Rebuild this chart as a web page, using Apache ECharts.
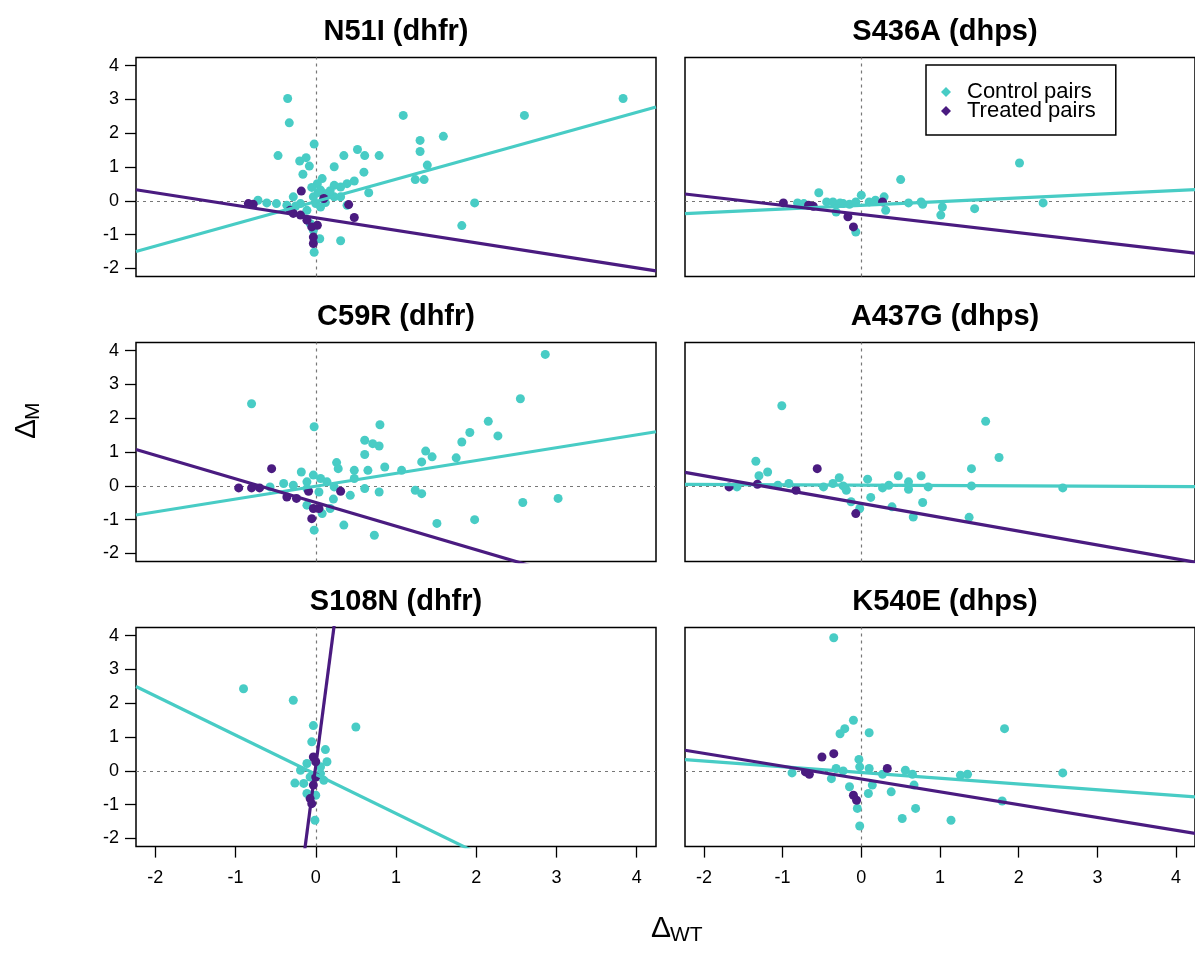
<!DOCTYPE html>
<html><head><meta charset="utf-8">
<script src="https://cdn.jsdelivr.net/npm/echarts@6/dist/echarts.min.js"></script>
<style>html,body{margin:0;padding:0;background:#fff}#c{width:1195px;height:953px}</style>
</head><body><div id="c"></div>
<script>
const panelTitles = ['N51I (dhfr)', 'S436A (dhps)', 'C59R (dhfr)', 'A437G (dhps)', 'S108N (dhfr)', 'K540E (dhps)'];
const seriesNames = ['Control pairs', 'Treated pairs'];
const xTicks = [-2, -1, 0, 1, 2, 3, 4];
const yTicks = [-2, -1, 0, 1, 2, 3, 4];
const axisRange = [-2.24, 4.24];

const n51iControl = [[-0.35,3.03],[-0.33,2.31],[1.09,2.53],[2.60,2.53],[3.83,3.03],[-0.02,1.68],[-0.47,1.34],[-0.20,1.18],[-0.12,1.28],[-0.08,1.03],[-0.16,0.79],[0.23,1.01],[0.35,1.34],[0.52,1.52],[0.61,1.34],[0.79,1.34],[0.60,0.85],[1.30,1.79],[1.30,1.46],[1.59,1.91],[1.39,1.06],[1.24,0.63],[1.35,0.63],[1.98,-0.06],[1.82,-0.73],[0.31,-1.18],[0.05,-1.12],[-0.02,-1.52],[0.66,0.24],[0.48,0.59],[0.39,0.51],[0.31,0.41],[0.23,0.46],[0.08,0.66],[0.02,0.51],[0.06,0.32],[0.14,0.22],[0.23,0.12],[0.31,0.12],[-0.28,0.12],[-0.19,-0.08],[-0.36,-0.13],[-0.49,-0.08],[-0.61,-0.06],[-0.72,0.02],[-0.03,0.12],[0.00,-0.08],[0.06,-0.18],[0.39,-0.13],[-0.11,-0.28],[-0.07,-0.67],[-0.03,-0.87],[0.10,0.05],[0.18,0.30],[0.03,0.25],[-0.05,0.40],[0.12,-0.05],[-0.25,-0.15]];
const n51iTreated = [[-0.18,0.29],[-0.84,-0.08],[-0.78,-0.10],[0.10,0.07],[0.41,-0.11],[0.48,-0.49],[-0.28,-0.37],[-0.19,-0.42],[-0.11,-0.57],[-0.05,-0.77],[-0.03,-1.07],[-0.03,-1.26],[0.02,-0.72],[-0.32,-0.28]];

const s436aControl = [[2.01,1.12],[0.50,0.63],[-0.54,0.24],[0.00,0.17],[0.29,0.12],[0.78,-0.10],[1.03,-0.18],[1.01,-0.42],[1.44,-0.23],[2.31,-0.06],[-0.07,-0.92],[0.31,-0.28],[-0.32,-0.33],[-0.23,-0.08],[-0.44,-0.03],[-0.15,-0.10],[-0.07,-0.03],[0.10,-0.03],[0.18,0.02],[0.60,-0.06],[0.76,-0.03],[-0.73,-0.08],[-0.81,-0.06],[-0.36,-0.03],[-0.27,-0.06]];
const s436aTreated = [[-0.99,-0.06],[-0.67,-0.13],[-0.61,-0.16],[-0.17,-0.47],[-0.10,-0.77],[0.27,-0.03]];

const c59rControl = [[2.86,3.89],[-0.80,2.43],[2.55,2.58],[-0.02,1.75],[0.80,1.81],[2.15,1.91],[1.92,1.58],[2.27,1.48],[1.82,1.30],[0.61,1.35],[0.71,1.25],[0.79,1.18],[0.61,0.93],[1.37,1.03],[1.45,0.86],[1.32,0.71],[1.75,0.83],[0.86,0.56],[1.07,0.46],[0.26,0.69],[0.28,0.51],[-0.18,0.41],[0.48,0.46],[0.65,0.46],[0.48,0.22],[0.61,-0.08],[0.79,-0.18],[1.24,-0.13],[1.32,-0.23],[0.43,-0.28],[0.22,-0.39],[2.58,-0.49],[3.02,-0.37],[1.98,-1.00],[1.51,-1.11],[0.35,-1.16],[0.73,-1.46],[-0.02,-1.31],[0.08,-0.82],[0.18,-0.67],[-0.40,0.07],[-0.28,0.02],[-0.11,0.12],[-0.03,0.32],[0.06,0.22],[0.14,0.12],[0.23,-0.03],[-0.11,-0.08],[0.04,-0.18],[-0.11,-0.57],[-0.57,-0.03]];
const c59rTreated = [[-0.55,0.51],[-0.96,-0.06],[-0.80,-0.06],[-0.70,-0.06],[-0.36,-0.33],[-0.24,-0.37],[-0.09,-0.16],[0.31,-0.16],[-0.03,-0.67],[-0.05,-0.97],[0.04,-0.67]];

const a437gControl = [[-1.01,2.37],[1.58,1.91],[1.75,0.84],[-1.34,0.73],[-1.19,0.41],[-1.30,0.30],[1.40,0.51],[1.40,0.00],[2.56,-0.06],[1.37,-0.93],[0.78,-0.49],[0.66,-0.92],[0.12,-0.34],[0.47,0.30],[0.76,0.30],[-0.28,0.24],[0.08,0.20],[0.35,0.02],[0.60,0.12],[0.60,-0.10],[0.27,-0.06],[-0.36,0.07],[-0.23,0.00],[-0.19,-0.13],[-0.48,-0.03],[-0.92,0.07],[-1.06,0.02],[-1.58,-0.03],[-0.13,-0.47],[-0.02,-0.67],[0.39,-0.62],[0.85,-0.03]];
const a437gTreated = [[-0.56,0.51],[-1.32,0.05],[-1.68,-0.03],[-0.83,-0.13],[-0.07,-0.82]];

const s108nControl = [[-0.90,2.43],[-0.28,2.09],[0.50,1.30],[-0.03,1.34],[-0.05,0.86],[0.12,0.63],[0.14,0.27],[-0.11,0.22],[-0.19,0.02],[0.06,-0.08],[0.10,-0.28],[-0.26,-0.36],[-0.15,-0.37],[-0.11,-0.67],[0.00,-0.72],[-0.01,-1.46],[0.06,0.12],[-0.07,-0.18]];
const s108nTreated = [[-0.03,0.41],[0.00,0.27],[-0.03,-0.42],[-0.07,-0.82],[-0.05,-0.97],[0.00,-0.18]];

const k540eControl = [[-0.35,3.94],[-0.10,1.50],[-0.21,1.25],[-0.27,1.10],[0.10,1.13],[1.82,1.25],[-0.03,0.34],[-0.02,0.12],[0.10,0.07],[-0.32,0.07],[-0.23,0.00],[-0.88,-0.06],[-0.38,-0.23],[0.27,-0.10],[0.56,0.02],[0.65,-0.10],[1.26,-0.13],[1.35,-0.10],[2.56,-0.06],[0.67,-0.42],[0.14,-0.42],[0.09,-0.67],[0.38,-0.62],[-0.15,-0.47],[-0.05,-1.11],[-0.02,-1.63],[0.52,-1.41],[0.69,-1.11],[1.14,-1.46],[1.79,-0.89]];
const k540eTreated = [[-0.50,0.41],[-0.35,0.51],[-0.71,-0.03],[-0.66,-0.10],[0.33,0.07],[-0.10,-0.72],[-0.06,-0.87]];

// fitted regression lines: [slope, intercept]
const controlFits = [[0.66,-0.02],[0.11,-0.13],[0.38,-0.01],[-0.01,0.02],[-1.16,-0.10],[-0.17,-0.05]];
const treatedFits = [[-0.37,-0.50],[-0.27,-0.40],[-0.70,-0.49],[-0.41,-0.52],[18.1,0.15],[-0.38,-0.24]];

const controlData = [n51iControl, s436aControl, c59rControl, a437gControl, s108nControl, k540eControl];
const treatedData = [n51iTreated, s436aTreated, c59rTreated, a437gTreated, s108nTreated, k540eTreated];

const CTRL = '#48CCC5', TRT = '#4A1B80';
const FONT = '"Liberation Sans", Arial, sans-serif';
const colLeft = [136, 685], panelW = 520, rowTop = [57.6, 342.6, 627.6], panelH = 219;

const grids = [], xAxes = [], yAxes = [], series = [], graphics = [];
function fitLine(f) {
  return axisRange.map(x => [x, f[1] + f[0] * x]);
}
for (let i = 0; i < 6; i++) {
  const col = i % 2, row = Math.floor(i / 2);
  grids.push({left: colLeft[col], top: rowTop[row], width: panelW, height: panelH,
    show: true, borderColor: '#000', borderWidth: 1.5, backgroundColor: 'transparent', containLabel: false});
  const bottom = row === 2, leftCol = col === 0;
  xAxes.push({type: 'value', gridIndex: i, min: axisRange[0], max: axisRange[1], position: 'bottom',
    splitLine: {show: false}, axisLine: {show: false, onZero: false},
    axisTick: {show: bottom, length: 11, customValues: xTicks, lineStyle: {color: '#000', width: 1.3}},
    axisLabel: {show: bottom, customValues: xTicks, fontSize: 18, color: '#000', fontFamily: FONT, margin: 22}});
  yAxes.push({type: 'value', gridIndex: i, min: axisRange[0], max: axisRange[1], position: 'left',
    splitLine: {show: false}, axisLine: {show: false, onZero: false},
    axisTick: {show: leftCol, length: 11, customValues: yTicks, lineStyle: {color: '#000', width: 1.3}},
    axisLabel: {show: leftCol, customValues: yTicks, fontSize: 18, color: '#000', fontFamily: FONT, margin: 17}});
  series.push({name: seriesNames[0], type: 'scatter', xAxisIndex: i, yAxisIndex: i, data: controlData[i],
    symbol: 'circle', symbolSize: 9, itemStyle: {color: CTRL, opacity: 1}, z: 2, silent: true,
    markLine: {silent: true, z: 1, symbol: 'none', label: {show: false}, animation: false,
      lineStyle: {color: '#777', type: [3, 4], width: 1.2}, data: [{xAxis: 0}, {yAxis: 0}]}});
  series.push({name: seriesNames[1], type: 'scatter', xAxisIndex: i, yAxisIndex: i, data: treatedData[i],
    symbol: 'circle', symbolSize: 9, itemStyle: {color: TRT, opacity: 1}, z: 3, silent: true});
  series.push({name: 'Control fit', type: 'line', xAxisIndex: i, yAxisIndex: i, data: fitLine(controlFits[i]),
    showSymbol: false, symbol: 'none', clip: true, lineStyle: {color: CTRL, width: 3.2}, z: 4, silent: true});
  series.push({name: 'Treated fit', type: 'line', xAxisIndex: i, yAxisIndex: i, data: fitLine(treatedFits[i]),
    showSymbol: false, symbol: 'none', clip: true, lineStyle: {color: TRT, width: 3.2}, z: 5, silent: true});
  graphics.push({type: 'text', x: colLeft[col] + panelW / 2, y: rowTop[row] - 26,
    style: {text: panelTitles[i], font: 'bold 29px ' + FONT, fill: '#000', textAlign: 'center', textVerticalAlign: 'middle'}});
}
// axis titles
graphics.push({type: 'text', x: 671, y: 928.5, style: {text: 'Δ', font: '30px ' + FONT, fill: '#000', textAlign: 'right', textVerticalAlign: 'middle'}});
graphics.push({type: 'text', x: 670, y: 935, style: {text: 'WT', font: '21px ' + FONT, fill: '#000', textAlign: 'left', textVerticalAlign: 'middle'}});
graphics.push({type: 'group', x: 25, y: 421, rotation: Math.PI / 2, children: [
  {type: 'text', x: 2, y: 1.5, style: {text: 'Δ', font: '30px ' + FONT, fill: '#000', textAlign: 'right', textVerticalAlign: 'middle'}},
  {type: 'text', x: 1, y: 8, style: {text: 'M', font: '21px ' + FONT, fill: '#000', textAlign: 'left', textVerticalAlign: 'middle'}}
]});

const chart = echarts.init(document.getElementById('c'), null, {renderer: 'canvas'});
chart.setOption({
  animation: false,
  backgroundColor: '#fff',
  grid: grids, xAxis: xAxes, yAxis: yAxes, series: series,
  legend: {data: seriesNames, orient: 'vertical', left: 926, top: 65, icon: 'diamond',
    itemWidth: 10, itemHeight: 10, itemGap: -3, selectedMode: false,
    padding: [16, 20, 13, 15], borderColor: '#000', borderWidth: 1.5, backgroundColor: '#fff',
    textStyle: {fontSize: 22, lineHeight: 19, color: '#000', fontFamily: FONT, padding: [0, 0, 0, 11]}},
  graphic: graphics
});
</script></body></html>
